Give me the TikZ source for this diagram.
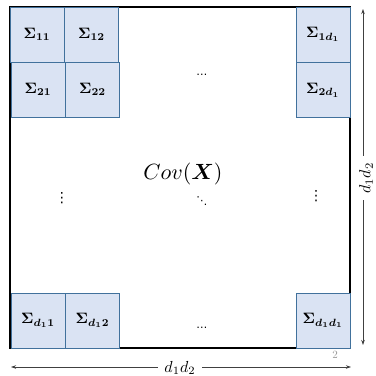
\documentclass[tikz,border=0pt]{standalone}
\usepackage{graphicx}
\usepackage{amsmath,bm}
\usepackage{fontspec}
\newfontfamily\dotfont{DejaVu Sans}
\usetikzlibrary{arrows.meta}
\definecolor{cellfill}{HTML}{DAE3F3}
\definecolor{celldraw}{HTML}{41719C}
\definecolor{dimgray}{HTML}{404040}
\newcommand\mysz[2]{\scalebox{#1}{#2}}
\tikzset{
  cell/.style={draw=celldraw, fill=cellfill, line width=0.8pt, minimum width=54pt, minimum height=55pt, inner sep=0pt, font=\boldmath},
  bigsq/.style={draw=black, line width=2pt},
  dimarrow/.style={draw=dimgray, line width=0.7pt, {Stealth[length=5pt,width=3.5pt]}-{Stealth[length=5pt,width=3.5pt]}},
  dimlabel/.style={fill=white, inner xsep=6pt, inner ysep=2pt},
  dotlabel/.style={inner sep=0pt, font=\dotfont\fontsize{11}{12}\selectfont},
  vdotlabel/.style={inner sep=0pt, font=\dotfont\fontsize{14}{16}\selectfont}
}
\begin{document}
\begin{tikzpicture}[x=1pt,y=-1pt]
\useasboundingbox (0,0) rectangle (376,376);
\fill[white] (0,0) rectangle (376,376);
\node[bigsq, minimum width=340pt, minimum height=341pt, inner sep=0pt] (sq) at (180,177.5) {};
\node[cell] (c11) at (37,34.5) {\mysz{1.5}{$\Sigma_{11}$}};
\node[cell] (c12) at (91.5,34.5) {\mysz{1.5}{$\Sigma_{12}$}};
\node[cell] (c21) at (38,89.5) {\mysz{1.5}{$\Sigma_{21}$}};
\node[cell] (c22) at (92.5,89.5) {\mysz{1.5}{$\Sigma_{22}$}};
\node[cell] (c1d) at (323,34.5) {\mysz{1.5}{$\Sigma_{1d_1}$}};
\node[cell] (c2d) at (323,90) {\mysz{1.5}{$\Sigma_{2d_1}$}};
\node[cell] (cd1) at (38,320.5) {\mysz{1.5}{$\Sigma_{d_11}$}};
\node[cell] (cd2) at (92.5,320.5) {\mysz{1.5}{$\Sigma_{d_12}$}};
\node[cell] (cdd) at (323,320.5) {\mysz{1.5}{$\Sigma_{d_1d_1}$}};
\node (cov) at (183,174) {\mysz{2.2}{$Cov(\boldsymbol{X})$}};
\node[dotlabel] (dtop) at (202,75) {…};
\node[dotlabel] (dbot) at (202,328) {…};
\node[vdotlabel] (dleft) at (62,198) {⋮};
\node[vdotlabel] (dright) at (316,196) {⋮};
\node[dotlabel] (ddiag) at (202,201) {⋱};
\coordinate (vt) at (363,9);
\coordinate (vb) at (363,345);
\coordinate (hl) at (11,367);
\coordinate (hr) at (351,367);
\draw[dimarrow] (vt) -- (vb);
\draw[dimarrow] (hl) -- (hr);
\node[dimlabel, rotate=90] (vlab) at (366,178) {\mysz{1.6}{$d_1d_2$}};
\node[dimlabel] (hlab) at (180,368) {\mysz{1.6}{$d_1d_2$}};
\node[text=gray!80, inner sep=0pt] (pg) at (335,355) {\mysz{1.1}{2}};
\end{tikzpicture}
\end{document}
